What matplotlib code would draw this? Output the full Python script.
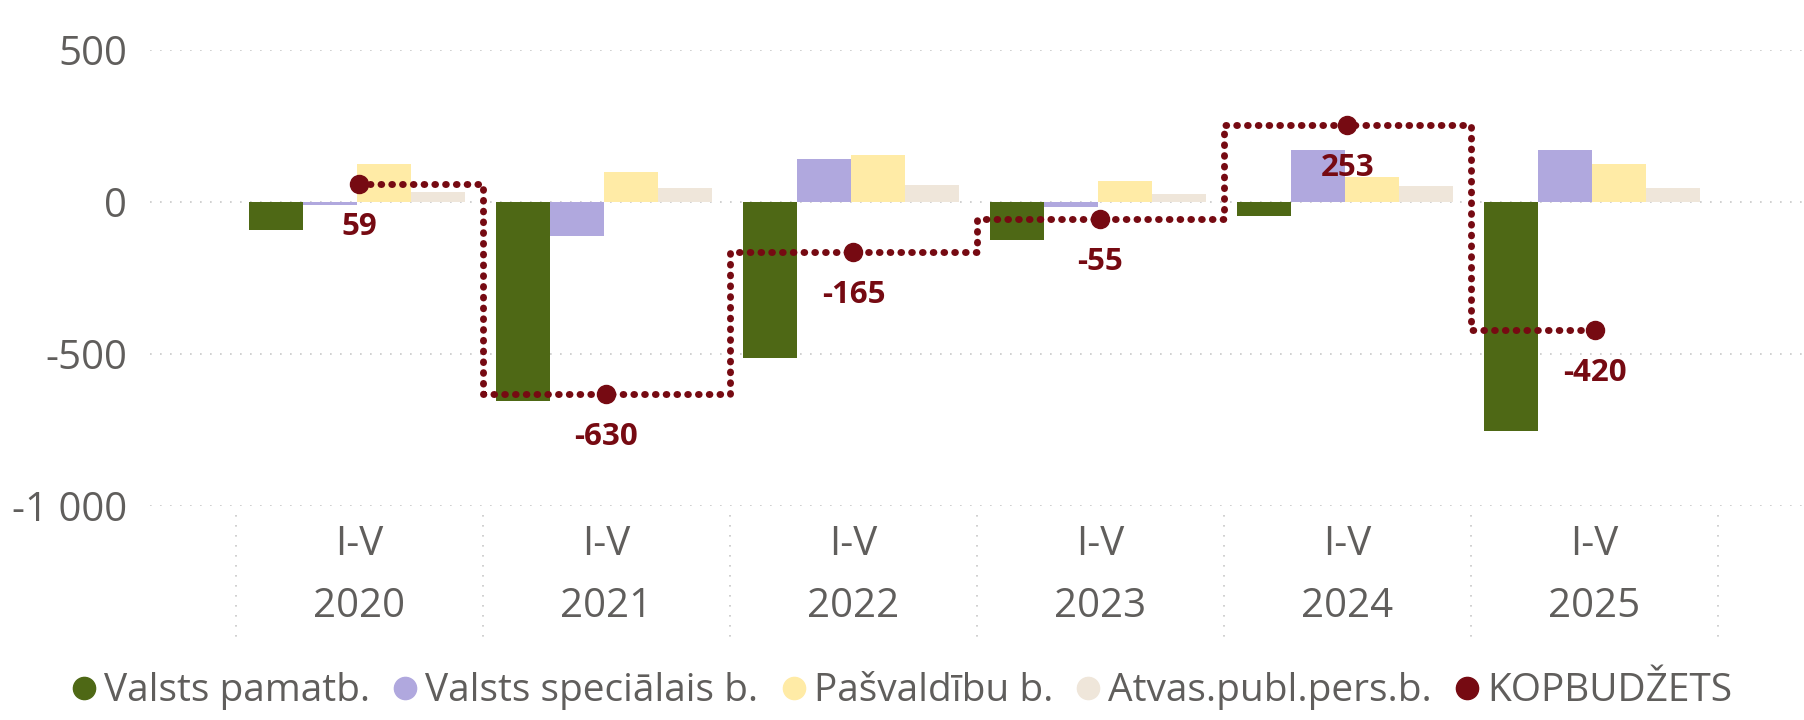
import matplotlib
matplotlib.use("Agg")
import matplotlib.pyplot as plt
from matplotlib.ticker import FuncFormatter
from matplotlib.lines import Line2D
import matplotlib.transforms as mtransforms
import numpy as np

plt.rcParams['font.family'] = ['Open Sans', 'DejaVu Sans']

# ---- data ----
periods = ['I-V\n2020', 'I-V\n2021', 'I-V\n2022', 'I-V\n2023', 'I-V\n2024', 'I-V\n2025']
valsts_pamatb = [-94, -654, -514, -126, -45, -752]
valsts_spec = [-10, -113, 142, -17, 171, 171]
pasvaldibu = [123, 97, 153, 67, 80, 123]
atvas_publ = [32, 45, 56, 25, 51, 47]
kopbudzets = [59, -630, -165, -55, 253, -420]

series_names = ['Valsts pamatb.', 'Valsts speciālais b.', 'Pašvaldību b.', 'Atvas.publ.pers.b.']
series_colors = ['#4E6815', '#B0A8DE', '#FFEBA6', '#EFE6DA']
line_name = 'KOPBUDŽETS'
line_color = '#760A12'
text_grey = '#605E5C'
grid_grey = '#C8C8C8'

fig = plt.figure(figsize=(18.04, 7.2), dpi=100)
ax = fig.add_axes([0.0831, 0.297, 0.9169, 0.634])

x = np.arange(len(periods))
w = 0.218
all_series = [valsts_pamatb, valsts_spec, pasvaldibu, atvas_publ]
for i, (vals, col) in enumerate(zip(all_series, series_colors)):
    ax.bar(x + (i - 1.5) * w - 0.01, vals, width=w, color=col, zorder=2)

ax.plot(x, kopbudzets, drawstyle='steps-mid', color=line_color, lw=5,
        linestyle=(0, (0.1, 1.45)), dash_capstyle='round', zorder=3, clip_on=False)
ax.plot(x, kopbudzets, 'o', color=line_color, ms=13, zorder=4, clip_on=False)
for xi, v in zip(x, kopbudzets):
    ax.annotate(f"{v}", (xi, v), xytext=(0, -31), textcoords='offset points',
                ha='center', va='center', fontsize=22.5, fontweight='bold',
                color=line_color, zorder=5)

ax.set_xlim(-0.848, 5.848)
ax.set_ylim(-1000, 500)
ax.set_yticks([-1000, -500, 0, 500])
ax.yaxis.set_major_formatter(FuncFormatter(lambda v, p: f"{int(v):,}".replace(",", " ")))
ax.set_xticks(x)
ax.set_xticklabels(periods, linespacing=1.72)
ax.tick_params(axis='y', length=0, pad=16.5, labelsize=29, labelcolor=text_grey)
ax.tick_params(axis='x', length=0, pad=13, labelsize=29, labelcolor=text_grey)
ax.grid(axis='y', color=grid_grey, linestyle=(0, (1, 5)), lw=1.2, zorder=0)
for s in ax.spines.values():
    s.set_visible(False)

# category separators under the axis
trans = mtransforms.blended_transform_factory(ax.transData, ax.transAxes)
for b in np.arange(len(periods) + 1) - 0.5:
    ax.plot([b, b], [-0.02, -0.287], transform=trans, color=grid_grey,
            linestyle=(0, (1, 5)), lw=1.2, clip_on=False)

handles = [Line2D([], [], marker='o', ls='none', color=c, ms=16) for c in series_colors]
handles.append(Line2D([], [], marker='o', ls='none', color=line_color, ms=16))
fig.legend(handles, series_names + [line_name], loc='center', bbox_to_anchor=(0.498, 0.04),
           ncol=5, frameon=False, fontsize=28, labelcolor=text_grey,
           handletextpad=0.02, columnspacing=0.4, handlelength=1.0)

fig.savefig('out.png', dpi=100)
